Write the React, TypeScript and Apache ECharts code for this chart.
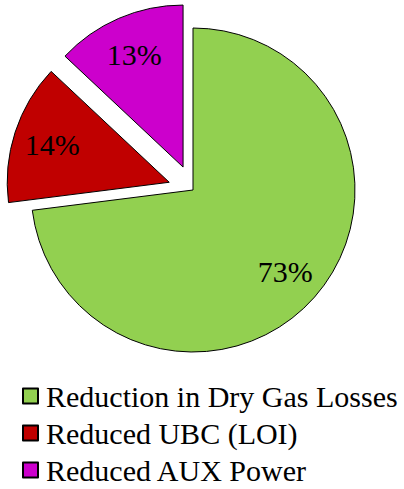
import React, { useEffect, useRef } from "react";
import * as echarts from "echarts";

const categories = ["Reduction in Dry Gas Losses", "Reduced UBC (LOI)", "Reduced AUX Power"];
const values = [73, 14, 13];
const exploded = [false, true, true];
const colors = ["#92D050", "#C00000", "#CC00CC"];

const FONT = "Liberation Serif, Times New Roman, serif";

export default function App() {
  const ref = useRef<HTMLDivElement>(null);
  useEffect(() => {
    if (!ref.current) return;
    const chart = echarts.init(ref.current, null, { renderer: "svg" });
    const mainData = categories.map((name, i) => ({
      name,
      value: values[i],
      selected: exploded[i],
      itemStyle: { color: colors[i] },
    }));
    const labelData = categories.map((name, i) => ({
      name,
      value: values[i],
      selected: exploded[i],
    }));
    chart.setOption({
      animation: false,
      legend: {
        data: categories,
        orient: "vertical",
        left: 22,
        top: 381,
        padding: 0,
        itemWidth: 15,
        itemHeight: 15,
        itemGap: 7,
        selectedMode: false,
        icon: "rect",
        textStyle: {
          fontFamily: FONT,
          fontSize: 30,
          lineHeight: 30,
          color: "#000",
          padding: [0, 0, 0, 3],
        },
      },
      series: [
        {
          type: "pie",
          center: [193, 190],
          radius: 162,
          startAngle: 90,
          clockwise: true,
          selectedMode: "multiple",
          selectedOffset: 25,
          silent: true,
          label: { show: false },
          labelLine: { show: false },
          itemStyle: { borderColor: "#000", borderWidth: 1 },
          select: { itemStyle: { borderColor: "#000", borderWidth: 1 } },
          emphasis: { disabled: true },
          data: mainData,
        },
        {
          type: "pie",
          center: [193, 190],
          radius: [100, 140],
          startAngle: 90,
          clockwise: true,
          selectedMode: "multiple",
          selectedOffset: 25,
          silent: true,
          legendHoverLink: false,
          itemStyle: { color: "rgba(0,0,0,0)", borderWidth: 0 },
          select: { itemStyle: { color: "rgba(0,0,0,0)", borderWidth: 0 } },
          emphasis: { disabled: true },
          label: {
            show: true,
            position: "inside",
            formatter: (p: any) => `${p.value}%`,
            fontFamily: FONT,
            fontSize: 30,
            color: "#000",
          },
          labelLine: { show: false },
          data: labelData,
        },
      ],
    });
    return () => chart.dispose();
  }, []);
  return (
    <div
      ref={ref}
      style={{ position: "fixed", left: 0, top: 0, width: 404, height: 489, background: "#fff" }}
    />
  );
}
